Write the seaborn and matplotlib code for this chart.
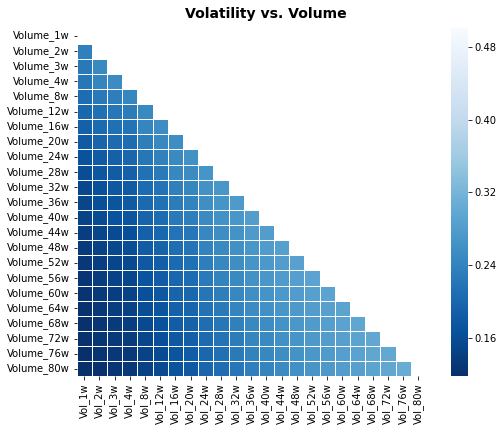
import numpy as np
import pandas as pd
import matplotlib
matplotlib.use("Agg")
import matplotlib.pyplot as plt
import seaborn as sns

weeks = ["1w", "2w", "3w", "4w", "8w", "12w", "16w", "20w", "24w", "28w", "32w", "36w",
         "40w", "44w", "48w", "52w", "56w", "60w", "64w", "68w", "72w", "76w", "80w"]
row_labels = ["Volume_" + w for w in weeks]
col_labels = ["Vol_" + w for w in weeks]

# lower-triangle values, one list per row (Volume_k), columns Vol_1w ...
row_values = [
    [],
    [0.235],
    [0.225, 0.250],
    [0.223, 0.243, 0.253],
    [0.208, 0.225, 0.233, 0.245],
    [0.200, 0.213, 0.222, 0.230, 0.250],
    [0.190, 0.205, 0.213, 0.218, 0.243, 0.255],
    [0.180, 0.196, 0.204, 0.208, 0.232, 0.247, 0.256],
    [0.168, 0.182, 0.190, 0.198, 0.224, 0.237, 0.250, 0.262],
    [0.160, 0.176, 0.183, 0.190, 0.215, 0.226, 0.246, 0.254, 0.266],
    [0.152, 0.165, 0.177, 0.182, 0.207, 0.218, 0.236, 0.244, 0.262, 0.270],
    [0.148, 0.162, 0.172, 0.180, 0.203, 0.214, 0.230, 0.240, 0.258, 0.266, 0.275],
    [0.145, 0.158, 0.168, 0.173, 0.195, 0.207, 0.225, 0.233, 0.252, 0.262, 0.270, 0.280],
    [0.140, 0.150, 0.158, 0.164, 0.190, 0.200, 0.217, 0.224, 0.246, 0.256, 0.264, 0.275, 0.280],
    [0.135, 0.144, 0.153, 0.160, 0.183, 0.193, 0.210, 0.218, 0.240, 0.250, 0.260, 0.270, 0.278, 0.285],
    [0.130, 0.140, 0.150, 0.155, 0.178, 0.188, 0.205, 0.213, 0.233, 0.246, 0.256, 0.266, 0.273, 0.280, 0.287],
    [0.127, 0.137, 0.145, 0.150, 0.170, 0.183, 0.200, 0.207, 0.226, 0.240, 0.250, 0.262, 0.270, 0.277, 0.283, 0.290],
    [0.124, 0.134, 0.140, 0.146, 0.165, 0.177, 0.195, 0.200, 0.220, 0.233, 0.246, 0.257, 0.265, 0.272, 0.278, 0.284, 0.290],
    [0.122, 0.130, 0.138, 0.142, 0.160, 0.172, 0.190, 0.196, 0.216, 0.227, 0.242, 0.253, 0.260, 0.268, 0.274, 0.280, 0.286, 0.292],
    [0.120, 0.127, 0.135, 0.140, 0.155, 0.166, 0.185, 0.192, 0.210, 0.222, 0.235, 0.248, 0.255, 0.264, 0.271, 0.277, 0.283, 0.289, 0.295],
    [0.120, 0.126, 0.132, 0.137, 0.150, 0.162, 0.178, 0.187, 0.206, 0.217, 0.230, 0.243, 0.250, 0.260, 0.267, 0.274, 0.280, 0.286, 0.292, 0.298],
    [0.119, 0.124, 0.130, 0.134, 0.146, 0.158, 0.173, 0.183, 0.200, 0.213, 0.226, 0.238, 0.246, 0.256, 0.264, 0.271, 0.277, 0.283, 0.289, 0.295, 0.300],
    [0.118, 0.122, 0.127, 0.131, 0.143, 0.155, 0.169, 0.178, 0.198, 0.209, 0.222, 0.234, 0.242, 0.252, 0.260, 0.268, 0.274, 0.280, 0.286, 0.292, 0.298, 0.305],
]

n = len(weeks)
mat = np.full((n, n), np.nan)
for i, vals in enumerate(row_values):
    mat[i, :len(vals)] = vals
df = pd.DataFrame(mat, index=row_labels, columns=col_labels)
mask = np.triu(np.ones((n, n), dtype=bool))

W, H = 504, 432
fig = plt.figure(figsize=(W / 72, H / 72), dpi=72)
ax = fig.add_axes([76.7 / W, (H - 376.4) / H, 349.2 / W, 348 / H])
cax = fig.add_axes([451 / W, (H - 376) / H, 16.5 / W, 347.6 / H])

sns.heatmap(df, mask=mask, cmap="Blues_r", vmin=0.118, vmax=0.5006,
            linewidths=1, linecolor="white", ax=ax, cbar_ax=cax,
            xticklabels=col_labels, yticklabels=row_labels)
ax.set_title("Volatility vs. Volume", fontsize=14, fontweight="bold", pad=10, x=0.542)
ax.tick_params(axis="both", labelsize=10)
ax.set_xticklabels(col_labels, rotation=90)
ax.set_yticklabels(row_labels, rotation=0)
cax.set_yticks([0.16, 0.24, 0.32, 0.40, 0.48])
cax.set_yticklabels(["0.16", "0.24", "0.32", "0.40", "0.48"])
cax.tick_params(labelsize=10)
for s in cax.spines.values():
    s.set_visible(False)

fig.savefig("out.png", dpi=72)
